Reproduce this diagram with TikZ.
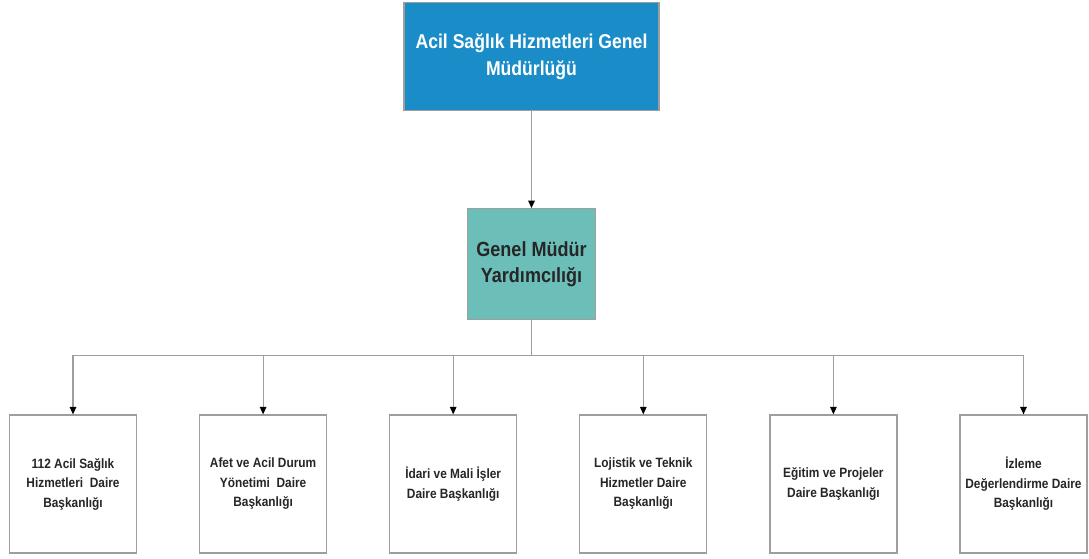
\documentclass[tikz,border=0pt]{standalone}
\usepackage{fontspec}
\setmainfont{Liberation Sans}
\newfontfamily\narrowsans[FakeStretch=0.88]{Liberation Sans}
\usetikzlibrary{positioning,arrows.meta}
\definecolor{gmblue}{HTML}{1A8DC8}
\definecolor{gmteal}{HTML}{6CBEB9}
\definecolor{edge}{HTML}{9E9E9E}

\begin{document}
\begin{tikzpicture}[
      x=1pt, y=1pt,
      head/.style={draw=edge, line width=1.2pt, fill=gmblue, text=white,
                   minimum width=255pt, minimum height=108pt, align=center,
                   inner sep=0pt, font=\narrowsans\fontsize{20}{27}\selectfont\bfseries},
      deputy/.style={draw=edge, line width=1.2pt, fill=gmteal, text=black!85,
                     minimum width=128pt, minimum height=111pt, align=center,
                     inner sep=0pt, font=\narrowsans\fontsize{20.5}{26}\selectfont\bfseries},
      dept/.style={draw=edge, line width=1.2pt, fill=white, text=black!85,
                   minimum width=127pt, minimum height=138pt, align=center,
                   inner sep=0pt, font=\narrowsans\fontsize{13.5}{19.5}\selectfont\bfseries},
      flow/.style={-{Triangle[width=6.5pt,length=7.5pt,color=black]}, edge, line width=1.2pt},
      link/.style={edge, line width=1.2pt}
    ]
    \useasboundingbox (0,0) rectangle (1089,-558);

    \node[head] (gm) at (531.5,-56.5)
      {Acil Sağlık Hizmetleri Genel\\Müdürlüğü};
    \node[deputy, below=97pt of gm] (gmy)
      {Genel Müdür\\Yardımcılığı};

    \node[dept] (d1) at (73,-484)
      {112 Acil Sağlık\\Hizmetleri\ \ Daire\\Başkanlığı};
    \node[dept, right=61.9pt of d1] (d2)
      {Afet ve Acil Durum\\Yönetimi\ \ Daire\\Başkanlığı};
    \node[dept, right=61.9pt of d2] (d3)
      {İdari ve Mali İşler\\Daire Başkanlığı};
    \node[dept, right=61.9pt of d3] (d4)
      {Lojistik ve Teknik\\Hizmetler Daire\\Başkanlığı};
    \node[dept, right=61.9pt of d4] (d5)
      {Eğitim ve Projeler\\Daire Başkanlığı};
    \node[dept, right=61.9pt of d5] (d6)
      {İzleme\\Değerlendirme Daire\\Başkanlığı};

    \draw[flow] (gm) -- (gmy);
    \draw[link] (gmy.south) -- ++(0,-35) coordinate (bus);
    \draw[link] (d1.north |- bus) -- (d6.north |- bus);
    \foreach \d in {d1,d2,d3,d4,d5,d6}
      \draw[flow] (\d.north |- bus) -- (\d.north);

  \end{tikzpicture}
\end{document}
